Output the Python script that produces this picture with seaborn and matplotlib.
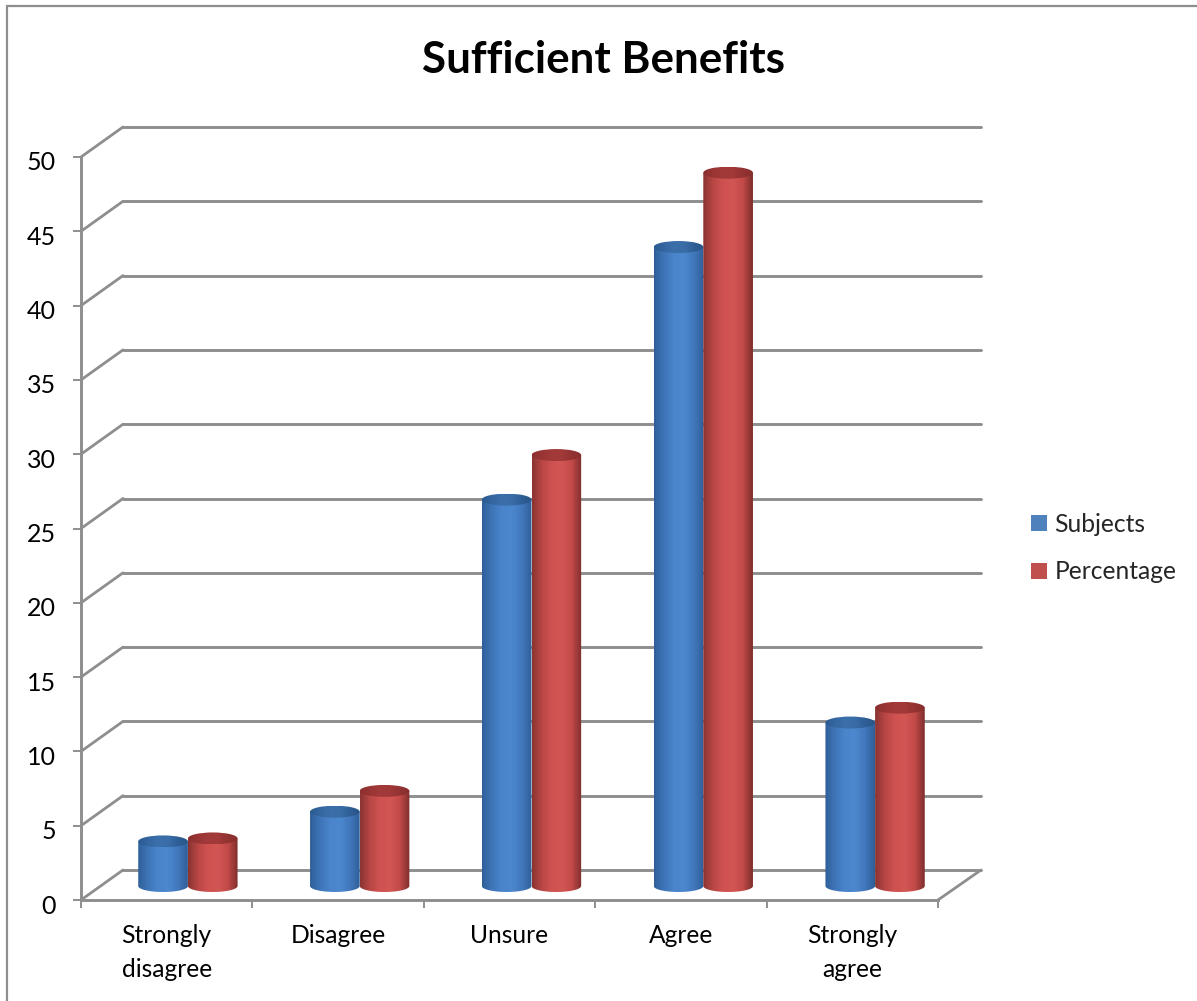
import numpy as np
import pandas as pd
import matplotlib
matplotlib.use("Agg")
import matplotlib.pyplot as plt
from matplotlib.colors import LinearSegmentedColormap
from matplotlib.patches import ConnectionPatch, Ellipse, Polygon, Rectangle
from matplotlib.transforms import ScaledTranslation
import seaborn as sns

# Survey responses
categories = ["Strongly\ndisagree", "Disagree", "Unsure", "Agree", "Strongly\nagree"]
subjects = [3, 5, 26, 43, 11]
percentage = [3.2, 6.4, 29, 48, 12]
series_names = ["Subjects", "Percentage"]
y_ticks = list(range(0, 55, 5))

W, H = 1197, 1001
GREY = "#8E8E8E"
FONT = "Lato"
sns.set_theme(style="white")
plt.rcParams["font.family"] = FONT

fig = plt.figure(figsize=(W / 100, H / 100), dpi=100, facecolor="white")


def pixel_rect(left, top, right, bottom):
    return [left / W, 1 - bottom / H, (right - left) / W, (bottom - top) / H]


# Outer chart frame, running off the right and bottom of the canvas
fig.add_artist(Rectangle((7 / W, -0.02), 1.05, 1 - 6 / H + 0.02, transform=fig.transFigure,
                         facecolor="none", edgecolor=GREY, linewidth=1.6))

# Three parallel planes give the oblique 3D look: back wall, front axis, bars between
wall = fig.add_axes(pixel_rect(123, 127, 981, 870), zorder=1)
front = fig.add_axes(pixel_rect(81, 157, 938, 900), zorder=2)
bars = fig.add_axes(pixel_rect(102, 143, 961, 886), zorder=3)

for axis in (wall, front, bars):
    axis.set_xlim(-0.5, len(categories) - 0.5)
    axis.set_ylim(0, 50)
    axis.patch.set_alpha(0)

# Back wall gridlines
wall.set_yticks(y_ticks)
wall.set_xticks([])
wall.tick_params(left=False, labelleft=False)
wall.grid(axis="y", color=GREY, linewidth=2.1)
for gridline in wall.get_ygridlines():
    gridline.set_clip_on(False)
sns.despine(ax=wall, left=True, bottom=True)

# Front axis with ticks between categories
sns.despine(ax=front)
for side in ("left", "bottom"):
    front.spines[side].set_color(GREY)
    front.spines[side].set_linewidth(2.1)
front.set_yticks(y_ticks)
front.set_xticks(range(len(categories)))
front.set_xticklabels(categories, fontsize=17.7, color="black", linespacing=1.62, fontfamily=FONT)
front.set_xticks(np.arange(-0.5, len(categories)), minor=True)
front.tick_params(axis="x", which="major", length=0, pad=17)
front.tick_params(axis="x", which="minor", length=6, width=1.4, color=GREY, bottom=True)
front.tick_params(axis="y", length=6, width=1.4, color=GREY, left=True, labelsize=18,
                  labelcolor="black", pad=12)
label_shift = ScaledTranslation(0, -4 / 72 * 0.72, fig.dpi_scale_trans)
for label in front.get_yticklabels():
    label.set_transform(label.get_transform() + label_shift)

# Oblique connectors from the front axis to the back wall
left_edge, right_edge = front.get_xlim()
connectors = [(left_edge, v) for v in y_ticks] + [(right_edge, 0)]
for xy in connectors:
    fig.add_artist(ConnectionPatch(xyA=xy, coordsA=front.transData, xyB=xy, coordsB=wall.transData,
                                   color=GREY, linewidth=2.0, zorder=1.5))

# Bars
table = pd.DataFrame({
    "category": categories * 2,
    "series": [series_names[0]] * len(categories) + [series_names[1]] * len(categories),
    "value": subjects + percentage,
})
sns.barplot(data=table, x="category", y="value", hue="series", hue_order=series_names,
            palette=["#4F81BD", "#C0504D"], width=0.578, gap=0, saturation=1, errorbar=None,
            linewidth=0, ax=bars)
bars.set_axis_off()

body_stops = [
    ["#2F5F98", "#3F75B8", "#4A84CB", "#4C88CE", "#4278BD", "#2F5F98"],
    ["#8A3432", "#B84745", "#CF5250", "#D25654", "#C24A48", "#7E2E2C"],
]
cap_stops = [
    ["#2B5A90", "#34669F", "#3C70AB", "#3A6DA7", "#2F5F96", "#2A5687"],
    ["#8A2F2E", "#993534", "#A23A3A", "#A03938", "#933332", "#872E2D"],
]
CAP_SEMI = 6 / 14.86  # ellipse half-height in value units


def shaded(axis, cmap, extent, clip_patch, order):
    gradient = np.linspace(0, 1, 128).reshape(1, -1)
    image = axis.imshow(gradient, cmap=cmap, extent=extent, aspect="auto", zorder=order,
                        interpolation="bilinear")
    clip_patch.set_transform(axis.transData)
    image.set_clip_box(fig.bbox)
    image.set_clip_path(clip_patch)


for s, container in enumerate(bars.containers):
    body_cmap = LinearSegmentedColormap.from_list(f"body{s}", body_stops[s])
    cap_cmap = LinearSegmentedColormap.from_list(f"cap{s}", cap_stops[s])
    for bar in container:
        x0, width, top = bar.get_x(), bar.get_width(), bar.get_height()
        bar.set_visible(False)
        order = 3 + s * 2
        theta = np.linspace(np.pi, 2 * np.pi, 60)
        arc_x = x0 + width / 2 + width / 2 * np.cos(theta)
        arc_y = CAP_SEMI * np.sin(theta)
        outline = np.column_stack([np.r_[arc_x, x0 + width, x0], np.r_[arc_y, top, top]])
        shaded(bars, body_cmap, (x0, x0 + width, -CAP_SEMI, top), Polygon(outline, closed=True), order)
        cap = Ellipse((x0 + width / 2, top), width, 2 * CAP_SEMI)
        shaded(bars, cap_cmap, (x0, x0 + width, top - CAP_SEMI, top + CAP_SEMI), cap, order + 1)

bars.set_xlim(-0.5, len(categories) - 0.5)
bars.set_ylim(0, 50)

# Legend to the right of the plot
sns.move_legend(bars, loc="center left", bbox_to_anchor=(1029 / W, 1 - 548 / H),
                bbox_transform=fig.transFigure, title=None, frameon=False, fontsize=17.7,
                handlelength=0.62, handleheight=0.62, handletextpad=0.32, labelspacing=1.0,
                borderpad=0.1, borderaxespad=0)

fig.text(604 / W, 1 - 60 / H, "Sufficient Benefits", ha="center", va="center",
         fontsize=31.7, fontweight="bold", color="black", fontfamily=FONT)

fig.savefig("out.png", dpi=100)
